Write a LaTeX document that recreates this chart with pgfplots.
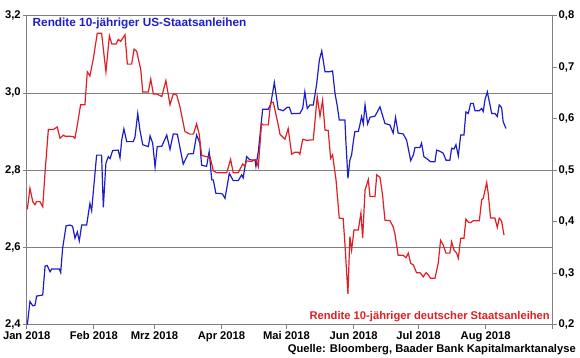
\documentclass[border=0pt]{standalone}
\usepackage{pgfplots}
\pgfplotsset{compat=1.18}
\usepackage{fontspec}
\setmainfont{Liberation Sans}
\definecolor{usblue}{RGB}{30,30,200}
\definecolor{dered}{RGB}{225,30,35}
\definecolor{gridc}{RGB}{128,128,128}
\newcommand{\lab}{\bfseries\fontsize{11.2}{13}\selectfont}
\pgfplotsset{numfmt/.style={/pgf/number format/fixed, /pgf/number format/fixed zerofill, /pgf/number format/precision=1, /pgf/number format/use comma, /pgf/number format/assume math mode=true}}
\begin{document}
\begin{tikzpicture}
\useasboundingbox (0,0) rectangle (580pt,358pt);
\begin{axis}[
  at={(26.7pt,33.3pt)}, anchor=south west,
  scale only axis, width=526pt, height=309pt,
  xmin=0, xmax=243, ymin=2.4, ymax=3.2,
  axis line style={gridc, line width=0.8pt},
  xtick={0,31,59,90,120,151,181,212,243},
  xticklabels={Jan 2018,Feb 2018,Mrz 2018,Apr 2018,Mai 2018,Jun 2018,Jul 2018,Aug 2018,},
  ytick={2.4,2.6,2.8,3.0,3.2},
  ymajorgrids, major grid style={gridc, line width=0.8pt},
  tick align=outside, major tick length=4pt,
  tick style={gridc, line width=0.8pt},
  xtick pos=bottom, ytick pos=left,
  tick label style={font=\lab},
  numfmt,
  xticklabel style={yshift=1pt},
  yticklabel style={xshift=1.5pt},
]
\addplot[usblue, line width=1.2pt] coordinates {
(0.3,2.400)(1.5,2.460)(2.8,2.449)(3.8,2.450)(4.6,2.474)(7.4,2.477)(8.5,2.552)(9.5,2.553)(10.8,2.537)(11.5,2.544)(15.1,2.544)(15.7,2.535)(16.6,2.598)(18.2,2.656)(20.0,2.658)(21.2,2.655)(22.3,2.624)(23.4,2.640)(24.3,2.617)(25.4,2.658)(27.7,2.658)(29.2,2.714)(30.0,2.695)(32.3,2.839)(34.6,2.839)(35.4,2.704)(36.6,2.818)(37.7,2.835)(38.5,2.830)(39.7,2.851)(42.3,2.852)(43.1,2.832)(43.9,2.878)(44.9,2.907)(46.2,2.874)(49.2,2.874)(50.0,2.885)(51.3,2.947)(52.3,2.904)(53.6,2.866)(56.2,2.861)(57.0,2.889)(58.2,2.870)(59.3,2.808)(60.3,2.861)(62.4,2.862)(64.7,2.891)(66.2,2.854)(67.7,2.894)(69.6,2.893)(72.3,2.816)(74.6,2.842)(77.0,2.843)(78.5,2.891)(80.0,2.870)(80.8,2.813)(83.1,2.810)(84.3,2.848)(85.5,2.775)(86.2,2.775)(87.4,2.740)(89.3,2.740)(90.5,2.738)(91.6,2.727)(92.7,2.762)(93.6,2.792)(95.4,2.773)(97.7,2.773)(99.3,2.788)(100.0,2.780)(101.6,2.835)(103.1,2.827)(105.5,2.826)(105.9,2.810)(107.0,2.848)(109.0,2.958)(111.6,2.958)(112.7,2.970)(114.4,3.027)(116.2,2.958)(118.5,2.954)(120.4,2.963)(121.3,2.963)(122.4,2.946)(123.9,2.947)(126.2,2.947)(127.5,2.960)(128.5,3.003)(129.6,2.960)(130.9,2.969)(132.4,2.969)(133.9,3.021)(135.2,3.085)(136.3,3.109)(137.8,3.055)(140.1,3.055)(141.3,3.057)(142.4,3.000)(143.5,2.965)(144.4,2.930)(147.0,2.930)(147.5,2.870)(148.4,2.779)(149.3,2.826)(150.1,2.840)(150.9,2.874)(151.6,2.900)(153.2,2.900)(153.9,2.917)(154.7,2.939)(155.5,2.920)(156.3,2.969)(157.5,2.920)(158.6,2.937)(160.9,2.940)(163.2,2.964)(165.5,2.921)(167.8,2.917)(169.3,2.896)(170.4,2.937)(171.6,2.896)(173.9,2.894)(175.5,2.878)(177.4,2.825)(178.6,2.839)(179.4,2.859)(181.7,2.859)(182.4,2.870)(183.5,2.835)(184.8,2.830)(186.6,2.822)(188.6,2.822)(189.4,2.852)(190.9,2.849)(192.4,2.844)(193.7,2.826)(195.5,2.826)(196.3,2.857)(197.4,2.855)(198.3,2.866)(199.4,2.837)(200.5,2.891)(202.0,2.891)(202.9,2.951)(204.0,2.947)(205.1,2.973)(206.3,2.973)(207.1,2.954)(209.1,2.954)(210.2,2.960)(210.9,2.952)(211.7,2.982)(212.8,3.003)(213.7,2.978)(214.8,2.947)(216.3,2.947)(217.4,2.939)(218.3,2.969)(219.4,2.962)(220.1,2.926)(221.4,2.908)
};
\end{axis}
\begin{axis}[
  at={(26.7pt,33.3pt)}, anchor=south west,
  scale only axis, width=526pt, height=309pt,
  xmin=0, xmax=243, ymin=0.2, ymax=0.8,
  axis x line=none, axis y line*=right,
  axis line style={gridc, line width=0.8pt},
  ytick={0.2,0.3,0.4,0.5,0.6,0.7,0.8},
  tick align=outside, major tick length=4pt,
  tick style={gridc, line width=0.8pt},
  tick label style={font=\lab},
  numfmt,
  yticklabel style={xshift=-1.5pt},
]
\addplot[dered, line width=1.2pt] coordinates {
(0.3,0.424)(1.5,0.465)(2.8,0.439)(3.8,0.433)(4.6,0.439)(6.1,0.439)(7.4,0.429)(8.5,0.497)(10.0,0.579)(12.3,0.579)(14.1,0.584)(15.4,0.562)(16.9,0.568)(17.7,0.566)(20.0,0.566)(21.5,0.565)(22.3,0.562)(23.4,0.588)(24.9,0.627)(26.9,0.627)(28.0,0.691)(29.2,0.683)(30.8,0.717)(32.6,0.766)(34.6,0.766)(36.6,0.691)(38.2,0.761)(39.3,0.745)(41.3,0.745)(42.3,0.754)(43.4,0.750)(45.4,0.763)(46.5,0.706)(48.5,0.706)(49.6,0.735)(50.8,0.731)(52.7,0.695)(53.6,0.652)(56.2,0.652)(57.3,0.677)(58.5,0.648)(60.0,0.648)(62.4,0.643)(64.3,0.674)(66.2,0.627)(67.7,0.648)(69.3,0.646)(70.8,0.623)(73.1,0.575)(75.4,0.570)(77.0,0.570)(78.5,0.590)(79.7,0.570)(80.8,0.529)(83.1,0.526)(84.7,0.526)(86.2,0.499)(87.8,0.495)(92.4,0.495)(94.2,0.521)(95.4,0.495)(97.7,0.495)(99.8,0.512)(100.8,0.508)(101.6,0.518)(103.9,0.517)(105.9,0.521)(107.0,0.507)(108.5,0.591)(109.3,0.588)(111.6,0.588)(112.7,0.631)(113.9,0.632)(116.2,0.588)(117.0,0.570)(119.3,0.560)(120.8,0.581)(122.4,0.531)(123.9,0.535)(125.5,0.535)(126.2,0.531)(127.5,0.560)(129.3,0.558)(132.4,0.559)(134.2,0.643)(135.5,0.605)(136.7,0.636)(137.8,0.578)(139.3,0.577)(140.4,0.523)(141.3,0.530)(142.9,0.481)(144.4,0.407)(146.2,0.406)(147.0,0.358)(148.4,0.260)(149.3,0.371)(150.1,0.345)(151.2,0.384)(153.2,0.384)(154.4,0.417)(155.2,0.368)(156.3,0.461)(157.8,0.482)(158.6,0.449)(160.9,0.449)(161.7,0.491)(163.2,0.486)(164.4,0.452)(165.5,0.403)(167.8,0.402)(169.3,0.390)(170.1,0.377)(171.6,0.335)(173.9,0.335)(175.2,0.330)(176.3,0.339)(177.4,0.319)(178.6,0.316)(180.1,0.301)(181.7,0.301)(183.2,0.293)(184.5,0.301)(185.5,0.297)(186.6,0.290)(188.6,0.290)(190.1,0.319)(191.2,0.364)(192.4,0.355)(193.7,0.339)(195.5,0.339)(196.3,0.361)(197.4,0.345)(198.6,0.339)(199.4,0.329)(200.5,0.368)(202.0,0.368)(202.9,0.405)(204.0,0.399)(205.1,0.398)(206.3,0.402)(209.1,0.402)(210.2,0.443)(210.9,0.445)(212.5,0.476)(213.2,0.455)(214.3,0.407)(216.3,0.407)(217.4,0.389)(218.3,0.407)(219.4,0.401)(220.5,0.374)
};
\end{axis}
\node[anchor=west, inner sep=0pt, text=usblue, font=\bfseries\fontsize{11.8}{13}\selectfont] at (32.5pt,334.5pt) {Rendite 10-jähriger US-Staatsanleihen};
\node[anchor=east, inner sep=0pt, text=dered, font=\lab] at (550pt,41.5pt) {Rendite 10-jähriger deutscher Staatsanleihen};
\node[anchor=east, inner sep=0pt, font=\lab] at (576pt,8pt) {Quelle: Bloomberg, Baader Bank Kapitalmarktanalyse};
\end{tikzpicture}
\end{document}
